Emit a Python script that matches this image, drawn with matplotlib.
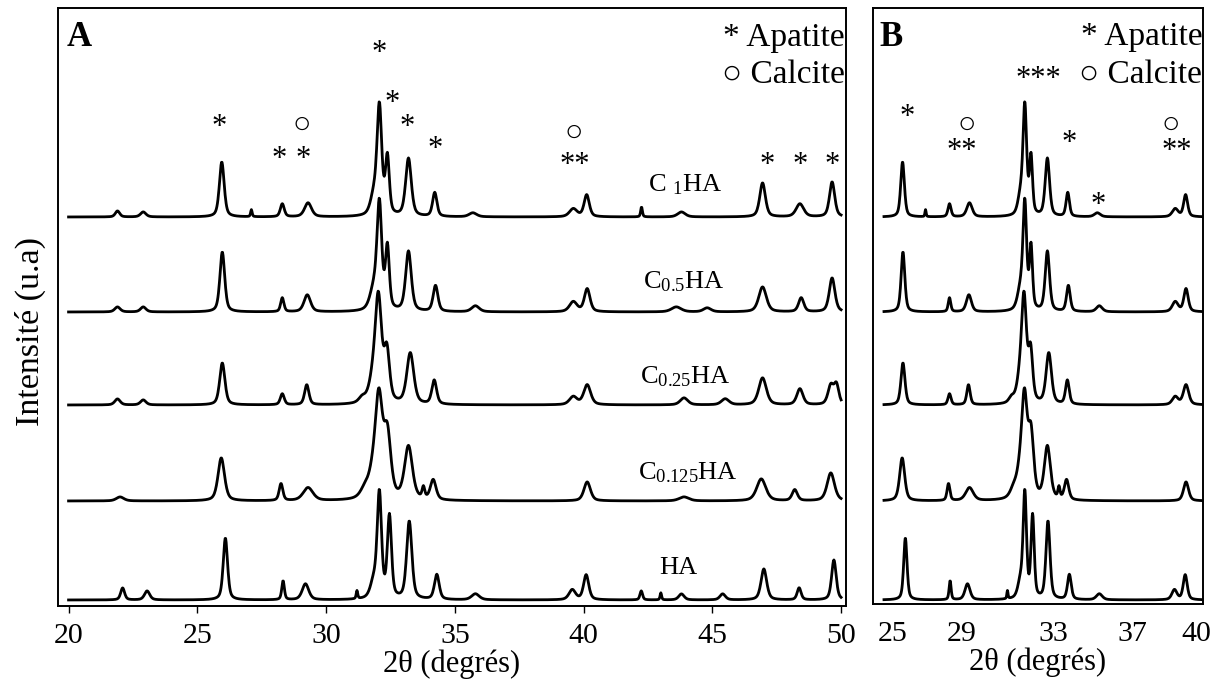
import numpy as np
import matplotlib as mpl
mpl.use('Agg')
import matplotlib.pyplot as plt

plt.rcParams['font.family'] = ['Liberation Serif', 'DejaVu Sans']
plt.rcParams['mathtext.fontset'] = 'custom'
plt.rcParams['mathtext.rm'] = 'Liberation Serif'
plt.rcParams['mathtext.default'] = 'regular'

# sample names, top to bottom
samples = ['C $_1$HA', 'C$_{0.5}$HA', 'C$_{0.25}$HA', 'C$_{0.125}$HA', 'HA']
offsets = [389, 294, 201, 105, 6]

# peaks: 2theta, height (a.u.), fwhm (deg)
pos_c1 = [21.9, 22.9, 25.95, 27.1, 28.3, 29.3, 31.85, 32.07, 32.38, 33.2, 34.22, 35.7, 39.6, 40.12, 42.25, 43.8, 46.95, 48.4, 49.65]
hgt_c1 = [6, 5, 55, 7, 13, 14, 18, 108, 57, 58, 24, 4, 8, 22, 10, 5, 34, 13, 35]
wid_c1 = [0.2, 0.25, 0.22, 0.07, 0.18, 0.32, 0.3, 0.22, 0.18, 0.26, 0.2, 0.35, 0.35, 0.24, 0.08, 0.35, 0.26, 0.35, 0.24]

pos_c05 = [21.9, 22.9, 25.97, 28.3, 29.27, 31.85, 32.07, 32.38, 33.2, 34.25, 35.8, 39.6, 40.14, 43.6, 44.8, 46.95, 48.45, 49.65]
hgt_c05 = [5, 5, 60, 14, 17, 20, 104, 62, 60, 26, 6, 10, 23, 5, 4, 25, 14, 34]
wid_c05 = [0.25, 0.25, 0.22, 0.15, 0.3, 0.35, 0.22, 0.18, 0.26, 0.22, 0.35, 0.35, 0.26, 0.45, 0.35, 0.35, 0.24, 0.26]

pos_c025 = [21.9, 22.9, 25.97, 28.3, 29.25, 31.4, 31.8, 32.03, 32.36, 33.27, 34.2, 39.6, 40.14, 43.9, 45.5, 46.95, 48.4, 49.6, 49.82]
hgt_c025 = [6, 5, 42, 11, 20, 5, 18, 104, 50, 51, 24, 8, 20, 7, 6, 27, 16, 19, 19]
wid_c025 = [0.25, 0.25, 0.24, 0.18, 0.2, 0.3, 0.35, 0.3, 0.25, 0.32, 0.22, 0.35, 0.32, 0.35, 0.35, 0.35, 0.28, 0.26, 0.22]

pos_c0125 = [22.0, 25.93, 28.25, 29.3, 31.5, 31.8, 32.05, 32.38, 33.2, 33.78, 34.16, 40.14, 43.9, 46.9, 48.2, 49.6]
hgt_c0125 = [4, 43, 17, 13, 8, 18, 98, 62, 53, 11, 20, 19, 4, 22, 11, 28]
wid_c0125 = [0.35, 0.3, 0.17, 0.45, 0.4, 0.4, 0.34, 0.32, 0.36, 0.12, 0.26, 0.3, 0.45, 0.42, 0.24, 0.34]

pos_ha = [22.1, 23.05, 26.09, 28.33, 29.2, 31.2, 31.85, 32.07, 32.46, 33.23, 34.3, 35.8, 39.56, 40.1, 42.24, 43.0, 43.8, 45.4, 47.0, 48.37, 49.72]
hgt_ha = [12, 9, 62, 19, 16, 8, 16, 104, 82, 78, 25, 6, 10, 25, 9, 7, 6, 6, 31, 12, 40]
wid_ha = [0.18, 0.24, 0.2, 0.12, 0.3, 0.07, 0.3, 0.2, 0.19, 0.24, 0.22, 0.35, 0.3, 0.24, 0.12, 0.07, 0.25, 0.25, 0.26, 0.18, 0.21]

peak_tables = [
    (pos_c1, hgt_c1, wid_c1),
    (pos_c05, hgt_c05, wid_c05),
    (pos_c025, hgt_c025, wid_c025),
    (pos_c0125, hgt_c0125, wid_c0125),
    (pos_ha, hgt_ha, wid_ha),
]

# phase markers (symbol, 2theta, height)
marks_a = [('*', 25.86, 479), ('*', 28.19, 447), ('*', 29.12, 447), ('○', 29.04, 481),
           ('*', 32.07, 552), ('*', 32.57, 503), ('*', 33.15, 479), ('*', 34.24, 456),
           ('○', 39.6, 473), ('**', 39.67, 441), ('*', 47.12, 441), ('*', 48.4, 441),
           ('*', 49.65, 441)]
marks_b = [('*', 26.17, 488), ('○', 29.17, 481), ('**', 28.92, 454), ('***', 32.73, 526),
           ('*', 34.28, 463), ('*', 35.73, 401), ('○', 39.39, 481), ('**', 39.69, 454)]
label_pos = [(43.94, 421), (43.87, 324), (43.94, 229), (44.06, 133), (43.67, 38)]

ticks_b = [25.47, 28.93, 33.48, 37.44, 40.64]
ticklabels_b = ['25', '29', '33', '37', '40']

two_theta = np.arange(20.0, 50.01, 0.02)


def pattern(pos, hgt, wid):
    """pseudo-Voigt sum for one diffractogram"""
    y = np.zeros_like(two_theta)
    for p, h, w in zip(pos, hgt, wid):
        d = (two_theta - p) / (w / 2)
        y += h * (0.5 * np.exp(-np.log(2) * d ** 2) + 0.5 / (1 + d ** 2))
    return y


curves = [pattern(*t) for t in peak_tables]

fig = plt.figure(figsize=(12.28, 6.8), dpi=100)
axA = fig.add_axes([58 / 1228, 74 / 680, 788 / 1228, 598 / 680])
axB = fig.add_axes([873 / 1228, 76 / 680, 330 / 1228, 596 / 680])

for ax in (axA, axB):
    for s in ax.spines.values():
        s.set_linewidth(1.4)
    ax.set_yticks([])

for c, off in zip(curves, offsets):
    axA.plot(two_theta, c + off, color='black', lw=2.0)
    m = two_theta >= 25.0
    axB.plot(two_theta[m], c[m] + off, color='black', lw=2.0)

axA.set_xlim(19.59, 50.19)
axA.set_ylim(0, 598)
axB.set_xlim(24.47, 40.99)
axB.set_ylim(2, 598)

axA.set_xticks(range(20, 51, 5))
axA.tick_params(axis='x', direction='out', length=5, width=1, pad=7.5, labelsize=21.5)
axB.set_xticks(ticks_b)
axB.set_xticklabels(ticklabels_b)
axB.tick_params(axis='x', length=0, pad=12.5, labelsize=21.5)

axA.set_xlabel('2θ (degrés)', fontsize=22, labelpad=0)
axB.set_xlabel('2θ (degrés)', fontsize=22, labelpad=0)
fig.text(30 / 1228, 1 - 331 / 680, 'Intensité (u.a)', rotation=90, fontsize=24.5,
         ha='center', va='center')

for sym, x, y in marks_a:
    axA.text(x, y, sym, ha='center', va='center', fontsize=22)
for sym, x, y in marks_b:
    axB.text(x, y, sym, ha='center', va='center', fontsize=22)

for name, (x, y) in zip(samples, label_pos):
    axA.text(x, y, name, ha='center', va='center', fontsize=19)

for ax in (axA, axB):
    ax.text(0.998, 0.951, '* Apatite', transform=ax.transAxes, ha='right', va='center', fontsize=24)
    ax.text(0.998, 0.888, '○ Calcite', transform=ax.transAxes, ha='right', va='center', fontsize=24)
axA.text(0.011, 0.951, 'A', transform=axA.transAxes, ha='left', va='center', fontsize=25, fontweight='bold')
axB.text(0.021, 0.951, 'B', transform=axB.transAxes, ha='left', va='center', fontsize=25, fontweight='bold')

fig.savefig('out.png', dpi=100)
